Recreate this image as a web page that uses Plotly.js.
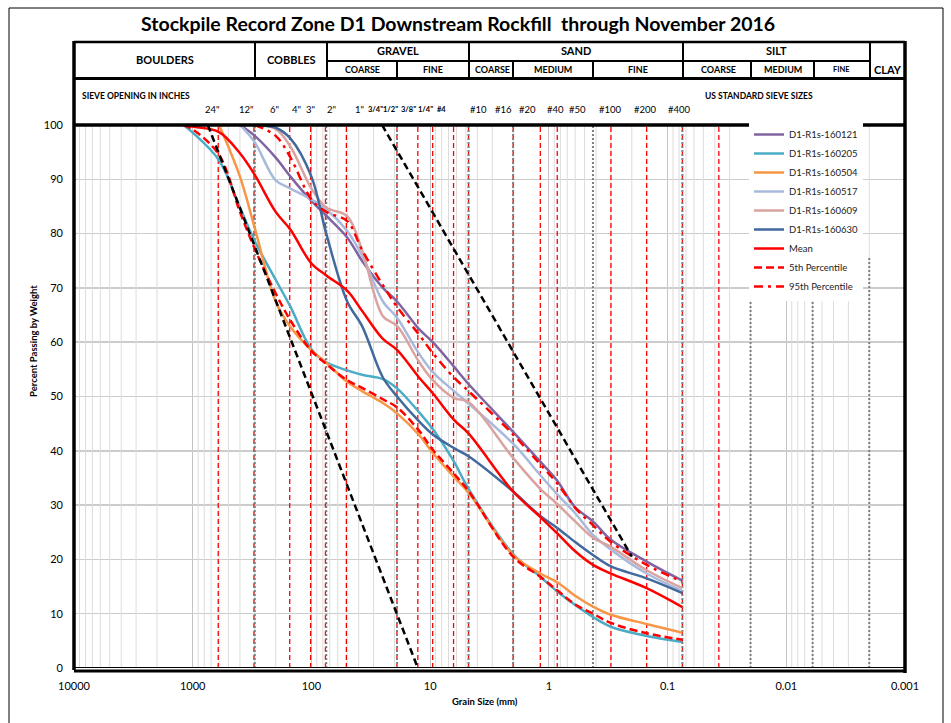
<!DOCTYPE html>
<html><head><meta charset="utf-8">
<script src="https://cdn.plot.ly/plotly-3.0.1.min.js"></script>
<style>html,body{margin:0;padding:0;background:#fff}#chart{width:951px;height:723px}</style>
</head><body><div id="chart"></div>
<script>
// ---------------- data ----------------
const grainSizeMm = [1200,1000,600,400,300,200,150,100,75,50,37.5,25,19,12.5,9.5,6.3,4.75,2,1.18,0.85,0.6,0.425,0.3,0.15,0.075];
const s160121 = [null,null,null,100,98,94,90.5,86,83.3,79.3,75,70,67.5,62.5,60,55.5,52.3,43.5,38,34.5,29.6,27,23.6,19.6,16.1];
const s160205 = [100,98.6,93.5,84.8,78.6,71.5,66.5,58.7,56.3,54.8,54,53.2,51.5,47.2,44,38,33,21,16.8,14.1,11.6,9.4,7.6,5.9,4.8];
const s160504 = [null,null,100,90.5,81,67.5,62.8,58.5,56.2,52.7,51,48.8,46.9,43,39.6,35.2,32.3,20.8,17.4,15.8,13.3,11.3,9.8,8.1,6.5];
const s160517 = [null,null,null,100,96.8,89.8,88.3,86.3,84.5,80.5,76,67.5,64.5,58,54.5,51,48.7,41.3,35.5,32,28.5,24.5,21.8,17.4,14.2];
const s160609 = [null,null,null,100,100,99.3,96,88.3,84.8,83.2,77,64.8,63,56.5,53,49.7,49,38.7,33,30.2,27,24,22.3,18,14.7];
const s160630 = [null,null,null,100,100,99.5,97.5,90.5,80,67.5,63,53.5,50,45.5,43,40.5,39,32.5,28,25.8,23.2,20.8,18.7,16.5,13.8];
const meanPct = [100,99.7,98.7,94.8,90.8,84,80.7,74.5,72.3,69.5,65.8,60.6,58.6,53.6,50.6,45.7,43.2,32.5,27.8,24.8,21.5,19,17.4,14.7,11.2];
const p5Pct   = [100,99.2,94.5,84,77.2,69,64,58.4,56,53,51.6,49.5,48,43.8,40.2,35.8,32.6,20.5,16.8,14.3,11.7,10,8.3,6.4,5.2];
const p95Pct  = [null,null,null,null,100,98,94,86.3,84,82.3,77,70.5,66.5,61.5,58,53.5,51,43,37.5,34,29.5,26.3,23.2,19,15.9];
const seriesNames = ['D1-R1s-160121','D1-R1s-160205','D1-R1s-160504','D1-R1s-160517','D1-R1s-160609','D1-R1s-160630','Mean','5th Percentile','95th Percentile'];

const envCoarseSize = [746,12.7];  const envCoarsePct = [100,0];
const envFineSize   = [25.4,0.2];  const envFinePct   = [100,20.5];

const sieveLineSizes = [609.6,304.8,152.4,101.6,76.2,50.8,19.05,12.7,9.525,6.35,4.75,2.0,1.18,0.85,0.3,0.15,0.075,0.037];
const boundarySizes = [300,75,19,4.75,2,0.425,0.075,0.02];
const boundarySizesShort = [0.006,0.002];

const xTickVals = [10000,1000,100,10,1,0.1,0.01,0.001];
const xTickText = ['10000','1000','100','10','1','0.1','0.01','0.001'];
const inchLabels = ['24"','12"','6"','4"','3"','2"','1"','3/4"','1/2"','3/8"','1/4"','#4'];
const usSieveLabels = ['#10','#16','#20','#40','#50','#100','#200','#400'];

// ---------------- layout helpers (pixel -> paper) ----------------
const L=74, R=905, T=125, B=668;
const px = x => (x-L)/(R-L);
const py = y => (B-y)/(B-T);
const FONT = 'Lato, "Open Sans", sans-serif';

const traces = [];
function vlines(vals, y0, y1, line){
  const x=[], y=[];
  vals.forEach(v=>{x.push(v,v,null); y.push(y0,y1,null);});
  traces.push({x, y, mode:'lines', line, hoverinfo:'skip', showlegend:false});
}
const minorGrid=[];
for(let e=-3;e<4;e++){for(let k=2;k<=9;k++){minorGrid.push(k*Math.pow(10,e));}}
vlines(minorGrid, 0, 100, {color:'#dcdcdc', width:1});
vlines(sieveLineSizes, 0, 100, {color:'#ff0000', width:1.3, dash:'5px,3px'});
vlines(boundarySizes, 0, 100, {color:'#808080', width:2, dash:'2px,2px'});
vlines(boundarySizesShort, 0, 75.5, {color:'#808080', width:2, dash:'2px,2px'});

const colors = ['#8064A2','#4BACC6','#F79646','#A7BADC','#D9A3A1','#41699C','#FF0000','#FF0000','#FF0000'];
const dashes = ['solid','solid','solid','solid','solid','solid','solid','8px,4px','9px,5px,3px,5px'];
const allSeries = [s160121,s160205,s160504,s160517,s160609,s160630,meanPct,p5Pct,p95Pct];
allSeries.forEach((s,i)=>{
  traces.push({x:grainSizeMm, y:s, name:seriesNames[i], mode:'lines',
    line:{color:colors[i], width:2.5, dash:dashes[i], shape:'spline', smoothing:1},
    hoverinfo:'skip', connectgaps:false});
});
traces.push({x:envCoarseSize, y:envCoarsePct, mode:'lines', line:{color:'#000', width:2.5, dash:'7px,4px'}, showlegend:false, hoverinfo:'skip'});
traces.push({x:envFineSize, y:envFinePct, mode:'lines', line:{color:'#000', width:2.5, dash:'7px,4px'}, showlegend:false, hoverinfo:'skip'});

// ---------------- header table ----------------
const shapes=[];
function ln(x0,y0,x1,y1,w,c){shapes.push({type:'line',xref:'paper',yref:'paper',x0:px(x0),y0:py(y0),x1:px(x1),y1:py(y1),line:{color:c||'#000',width:w}});}
ln(74,42,905,42,2.5);
ln(74,78.5,905,78.5,3);
ln(327,61,870,61,2);
[255,327,469,683,870].forEach(x=>ln(x,42,x,78.5,2));
[397,513,593,751,814].forEach(x=>ln(x,61,x,78.5,2));
ln(74,41,74,670,3.5);
ln(905,41,905,673,3.5);
ln(74,125,905,125,3.5);
ln(74,667.5,905,667.5,1);
ln(74,671,905,671,3);
ln(9,8,943,8,1); ln(9,8,9,723,1); ln(943,8,943,723,1);

const ann=[];
function txt(t,x,y,size,bold,extra){
  ann.push(Object.assign({text:bold?'<b>'+t+'</b>':t, xref:'paper', yref:'paper', x:px(x), y:py(y),
    showarrow:false, xanchor:'center', yanchor:'middle', font:{family:FONT,size:size,color:'#000'}},extra||{}));
}
txt('Stockpile Record Zone D1 Downstream Rockfill  through November 2016',458,24,19.5,true);
txt('BOULDERS',165,60,11,true);
txt('COBBLES',291,60,11,true);
txt('GRAVEL',398,51,11,true);
txt('SAND',576,51,11,true);
txt('SILT',776,51,11,true);
txt('CLAY',888,70,11,true);
const subCls=['COARSE','FINE','COARSE','MEDIUM','FINE','COARSE','MEDIUM','FINE'];
const subX=[362,433,492,553,638,718,783,841];
subCls.forEach((t,i)=>txt(t,subX[i],70,i===7?7.5:9,true));
txt('SIEVE OPENING IN INCHES',80,96,8.5,true,{xanchor:'left'});
txt('US STANDARD SIEVE SIZES',703,96,8.5,true,{xanchor:'left'});
const inchX=[212,246,274,296,310,331,359,375,390,408,425,441];
inchLabels.forEach((t,i)=>txt(t,inchX[i],109,(i>=7)?7.5:9.5,(i>=7)));
const usX=[478,503,527,555,577,610,645,679];
usSieveLabels.forEach((t,i)=>txt(t,usX[i],109,9.5,false));
txt('Percent Passing by Weight',33,341,9.5,true,{textangle:-90});
txt('Grain Size (mm)',485,701,9.5,true);

const layout={
  width:951,height:723,
  margin:{l:L,r:951-R,t:T,b:723-B,pad:0},
  paper_bgcolor:'#fff',plot_bgcolor:'#fff',
  font:{family:FONT,size:11,color:'#000'},
  showlegend:true,
  legend:{x:px(749),y:py(120),xanchor:'left',yanchor:'top',bgcolor:'#fff',borderwidth:0,
    font:{family:FONT,size:9.5,color:'#222'},tracegroupgap:0},
  xaxis:{type:'log',range:[4,-3],autorange:false,tickvals:xTickVals,ticktext:xTickText,
    showgrid:true,gridcolor:'#c4c4c4',gridwidth:1,zeroline:false,showline:false,ticks:'',
    tickfont:{family:FONT,size:11,color:'#000'},ticklabelstandoff:10},
  yaxis:{range:[0,100],autorange:false,dtick:10,showgrid:true,gridcolor:'#cccccc',gridwidth:1.5,
    zeroline:false,showline:false,ticks:'',tickfont:{family:FONT,size:11,color:'#000'},ticklabelstandoff:10},
  shapes:shapes, annotations:ann, hovermode:false
};
Plotly.newPlot('chart',traces,layout,{staticPlot:true,displayModeBar:false});
</script></body></html>
